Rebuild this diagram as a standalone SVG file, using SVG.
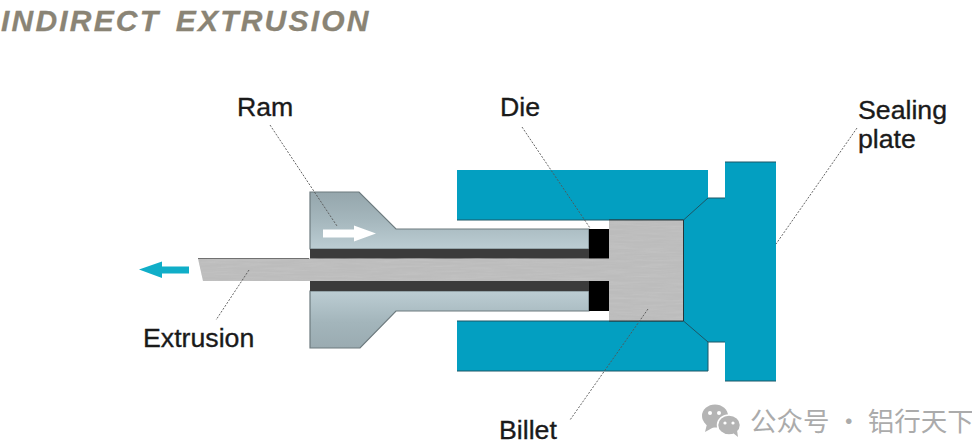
<svg xmlns="http://www.w3.org/2000/svg" width="972" height="445" viewBox="0 0 972 445">
  <style>
    .label { font-family: "Liberation Sans", Arial, sans-serif; font-size: 26.700px; fill: #1a1a1a; stroke: #1a1a1a; stroke-width: 0.35; }
    .title { font-family: "Liberation Sans", Arial, sans-serif; font-size: 30px; font-weight: bold; font-style: italic; fill: #8a8475; stroke: #8a8475; stroke-width: 0.3; letter-spacing: 2.2px; word-spacing: 5px; }
    .mark { font-family: "Noto Sans CJK SC", "Noto Sans", sans-serif; font-size: 26.500px; fill: #ababab; }
    .leader { fill: none; stroke: #555; stroke-width: 0.9; stroke-dasharray: 2 1.5; }
    .steel { stroke: #6d7a7e; stroke-width: 1.2; }
    .blue { fill: #039fc1; }
    .edge { fill: none; stroke: #1d5666; stroke-width: 1; }
  </style>
  <defs>
    <linearGradient id="ramTop" x1="0" y1="192" x2="0" y2="249" gradientUnits="userSpaceOnUse">
      <stop offset="0" stop-color="#95a6ac"/>
      <stop offset="0.45" stop-color="#a3b5bb"/>
      <stop offset="1" stop-color="#bccdd3"/>
    </linearGradient>
    <linearGradient id="ramBottom" x1="0" y1="291" x2="0" y2="348" gradientUnits="userSpaceOnUse">
      <stop offset="0" stop-color="#bccdd3"/>
      <stop offset="0.55" stop-color="#a3b5bb"/>
      <stop offset="1" stop-color="#9aabb1"/>
    </linearGradient>
    <!-- brushed-metal streaks for the billet -->
    <filter id="brushed" x="0" y="0" width="100%" height="100%">
      <feTurbulence type="fractalNoise" baseFrequency="0.03 0.5" numOctaves="3" seed="7" result="n"/>
      <feColorMatrix in="n" type="matrix" values="0 0 0 0 0.55  0 0 0 0 0.55  0 0 0 0 0.55  1.600 0 0 0 -0.58" result="g"/>
      <feComposite in="g" in2="SourceGraphic" operator="in" result="t"/>
      <feMerge><feMergeNode in="SourceGraphic"/><feMergeNode in="t"/></feMerge>
    </filter>
  </defs>

  <text class="title" x="1" y="31">INDIRECT EXTRUSION</text>

  <!-- container and sealing plate -->
  <g id="container">
    <path class="blue" d="M457 170H708V198H725V162H776V381H725V342H708V371H457V321H683.5V220H457Z"/>
    <path class="edge" d="M683.5 220H457M683.5 220V321H457M683.5 220L708 198H725M683.5 321L708 342H725M725 162H776M725 381H776M457 371H708V342"/>
  </g>

  <!-- ram with its bore -->
  <g id="ram">
    <path class="steel" fill="url(#ramTop)" d="M310 192H359L396 229H589V249H310Z"/>
    <path class="steel" fill="url(#ramBottom)" d="M310 291H589V311H396L360 348H310Z"/>
    <rect x="310" y="249" width="279" height="10" fill="#3b3b3b"/>
    <rect x="310" y="281" width="279" height="10" fill="#3b3b3b"/>
  </g>

  <!-- die rings -->
  <g id="die">
    <rect x="589" y="229" width="20" height="30" fill="#000"/>
    <rect x="589" y="281" width="20" height="30" fill="#000"/>
  </g>

  <!-- billet and the extruded section -->
  <g id="billet">
    <path fill="#bcbcbc" filter="url(#brushed)" d="M609 220H683.5V321H609V281H203L198 258.500H609Z"/>
    <path fill="none" stroke="#555" stroke-width="0.8" d="M198 258.500H309"/>
    <path fill="none" stroke="#26363a" stroke-width="1" d="M609 220H683.500V321H609"/>
  </g>

  <!-- travel arrows -->
  <g id="arrows">
    <path fill="#fff" d="M323 229.500H354V225.500L376 233.500L354 241.500V237.500H323Z"/>
    <path fill="#10aec8" d="M139 269.500L162 261.500V266.500H189V273.500H162V278Z"/>
  </g>

  <g id="connectors">
    <path class="leader" d="M270 125L337 226"/>
    <path class="leader" d="M522 127L590 228"/>
    <path class="leader" d="M857 128L776 244"/>
    <path class="leader" d="M648 309L570 420"/>
    <path class="leader" d="M249 270L216 320"/>
  </g>

  <g id="labels">
    <text class="label" x="237" y="116">Ram</text>
    <text class="label" x="500" y="116">Die</text>
    <text class="label" x="858" y="119">Sealing</text>
    <text class="label" x="858" y="148">plate</text>
    <text class="label" x="143" y="347">Extrusion</text>
    <text class="label" x="499" y="439">Billet</text>
  </g>

  <!-- account mark, bottom right -->
  <g id="account-mark">
    <ellipse cx="715" cy="416" rx="13" ry="11.500" fill="#b4b4b4"/>
    <path d="M707 424L705 432L714 427Z" fill="#b4b4b4"/>
    <ellipse cx="729" cy="425" rx="11.500" ry="10" fill="#b4b4b4" stroke="#fff" stroke-width="1.500"/>
    <path d="M733 433L738 437L737 430Z" fill="#b4b4b4"/>
    <circle cx="710" cy="413" r="2" fill="#fff"/>
    <circle cx="719" cy="413" r="2" fill="#fff"/>
    <circle cx="725" cy="423" r="1.600" fill="#fff"/>
    <circle cx="733" cy="423" r="1.600" fill="#fff"/>
    <text class="mark" x="750" y="431">公众号 · 铝行天下</text>
  </g>
</svg>
